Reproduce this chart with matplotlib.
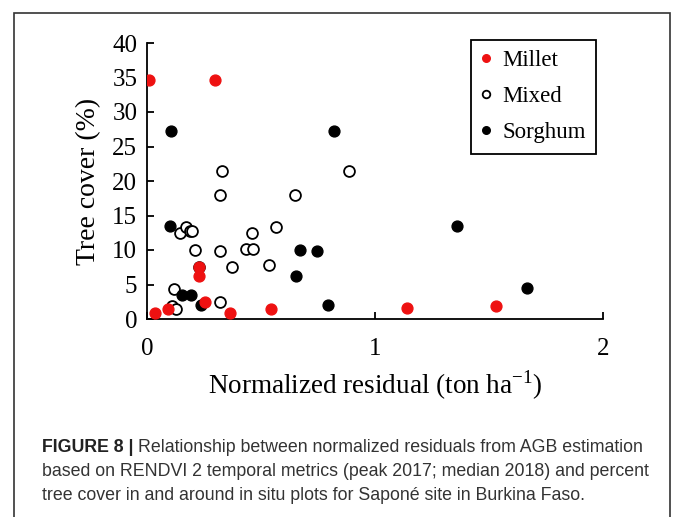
import numpy as np
import matplotlib
matplotlib.use('Agg')
import matplotlib.pyplot as plt
import matplotlib.patches as mpatches

# Data
millet_x = [0.01, 0.30, 0.036, 0.09, 0.23, 0.23, 0.255, 0.365, 0.544, 1.14, 1.53]
millet_y = [34.6, 34.6, 0.8, 1.4, 7.6, 6.2, 2.5, 0.8, 1.5, 1.6, 1.9]

mixed_x = [0.108, 0.127, 0.12, 0.144, 0.169, 0.19, 0.198, 0.211, 0.229, 0.318, 0.33,
           0.322, 0.322, 0.372, 0.433, 0.46, 0.465, 0.535, 0.567, 0.651, 0.887]
mixed_y = [1.9, 1.4, 4.4, 12.4, 13.4, 12.7, 12.7, 10.0, 7.6, 17.9, 21.5,
           9.9, 2.5, 7.6, 10.1, 12.4, 10.1, 7.8, 13.4, 17.9, 21.5]

sorghum_x = [0.107, 0.102, 0.153, 0.193, 0.239, 0.655, 0.67, 0.745, 0.793, 0.82, 1.358, 1.666]
sorghum_y = [27.3, 13.5, 3.5, 3.5, 2.1, 6.3, 10.0, 9.9, 2.1, 27.3, 13.5, 4.5]

W, H = 676, 517
fig = plt.figure(figsize=(W/100, H/100), dpi=100)
ax = fig.add_axes([147/W, 1-319/H, (603-147)/W, (319-43)/H])

serif = 'Liberation Serif'
ax.plot(mixed_x, mixed_y, 'o', mfc='white', mec='black', mew=1.3, ms=7.8, ls='none', label='Mixed', zorder=2)
ax.plot(sorghum_x, sorghum_y, 'o', color='black', ms=7.8, ls='none', label='Sorghum', zorder=3)
ax.plot(millet_x, millet_y, 'o', color='#ee1111', ms=7.8, ls='none', label='Millet', zorder=4)

ax.set_xlim(0, 2)
ax.set_ylim(0, 40)
ax.set_xticks([0, 1, 2])
ax.set_yticks(range(0, 45, 5))
ax.spines['top'].set_visible(False)
ax.spines['right'].set_visible(False)
for s in ['left', 'bottom']:
    ax.spines[s].set_linewidth(1.3)
ax.tick_params(direction='in', length=5, width=1.3, labelsize=18)
ax.tick_params(axis='x', pad=14)
ax.tick_params(axis='y', pad=7)
for lab in ax.get_xticklabels() + ax.get_yticklabels():
    lab.set_fontfamily(serif)

ax.set_xlabel('Normalized residual (ton ha$^{\\mathregular{-1}}$)', fontsize=19.5, family=serif, labelpad=6)
ax.set_ylabel('Tree cover (%)', fontsize=20, family=serif, labelpad=8)

h, l = ax.get_legend_handles_labels()
order = [2, 0, 1]
leg = ax.legend([h[i] for i in order], [l[i] for i in order], loc='upper right',
                bbox_to_anchor=(596/W, 1-40/H), bbox_transform=fig.transFigure,
                prop={'family': serif, 'size': 16.5}, markerscale=0.7, handlelength=0.4,
                handletextpad=0.5, borderpad=0.45, labelspacing=0.65, borderaxespad=0,
                fancybox=False, edgecolor='black', framealpha=1)
leg.get_frame().set_linewidth(1.3)

# outer frame
frame = mpatches.Rectangle((14/W, -0.05), (670-14)/W, 1.05-13/H, transform=fig.transFigure,
                           fill=False, edgecolor='#333333', lw=1.2, clip_on=False)
fig.patches.append(frame)

# caption
cap_col = '#333333'
lines = ['Relationship between normalized residuals from AGB estimation',
         'based on RENDVI 2 temporal metrics (peak 2017; median 2018) and percent',
         'tree cover in and around in situ plots for Saponé site in Burkina Faso.']
ys = [447, 471, 495]
fs = 12.8
b = fig.text(42/W, 1-ys[0]/H, 'FIGURE 8 |', fontsize=fs, fontweight='bold', family='Liberation Sans',
             color='#222222', va='center')
r = fig.canvas.get_renderer()
bb = b.get_window_extent(r)
fig.text(bb.x1/W + 4/W, 1-ys[0]/H, lines[0], fontsize=fs, family='Liberation Sans', color=cap_col, va='center')
for t, y in zip(lines[1:], ys[1:]):
    fig.text(42/W, 1-y/H, t, fontsize=fs, family='Liberation Sans', color=cap_col, va='center')

fig.savefig('out.png', dpi=100)
